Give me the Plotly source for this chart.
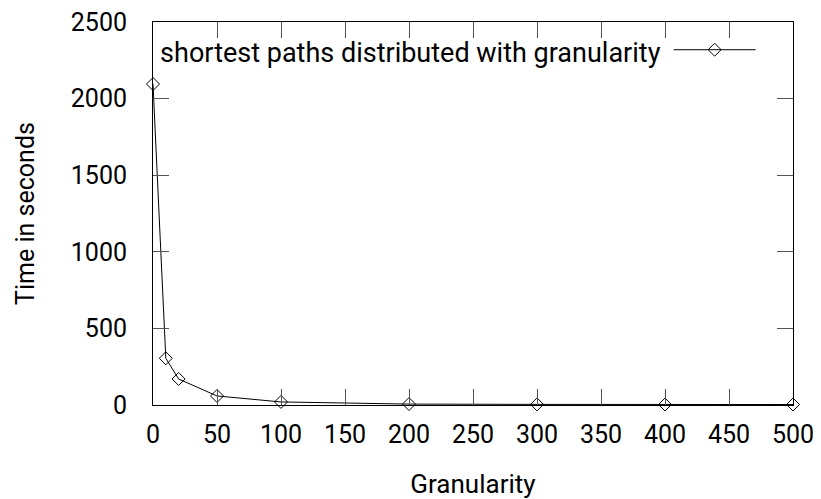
import plotly.graph_objects as go

granularity = [0, 10, 20, 50, 100, 200, 300, 400, 500]
time_seconds = [2095, 305, 170, 59, 20, 6, 4, 3, 3]
series_name = "shortest paths distributed with granularity"
x_ticks = [0, 50, 100, 150, 200, 250, 300, 350, 400, 450, 500]
y_ticks = [0, 500, 1000, 1500, 2000, 2500]

FONT = "Roboto"
FS = 25

fig = go.Figure()
fig.add_trace(go.Scatter(
    x=granularity, y=time_seconds, mode="lines+markers",
    name="",
    line=dict(color="black", width=1),
    marker=dict(symbol="diamond-open", size=10, color="black", line=dict(width=1)),
    showlegend=True,
    cliponaxis=False,
))

axis_common = dict(
    showgrid=False, zeroline=False, showline=True, linecolor="black", linewidth=1,
    mirror="ticks", ticks="inside", ticklen=16, tickcolor="#555", tickwidth=1,
    tickfont=dict(family=FONT, size=FS, color="black"), automargin=False,
    ticklabeloverflow="allow",
)

# the page body adds an 8px offset, so the figure is 8px smaller and margins compensated
fig.update_layout(
    width=813, height=491,
    margin=dict(l=145, r=28, t=14, b=94),
    plot_bgcolor="white", paper_bgcolor="white",
    font=dict(family=FONT, size=FS, color="black"),
    xaxis=dict(range=[0, 500], tickvals=x_ticks, ticklabelstandoff=7,
               title=dict(text="Granularity", font=dict(family=FONT, size=26), standoff=27),
               **axis_common),
    yaxis=dict(range=[0, 2500], tickvals=y_ticks, ticklabelstandoff=20,
               title=dict(text="Time in seconds", font=dict(family=FONT, size=FS), standoff=29),
               **axis_common),
    legend=dict(x=0.008, y=0.987, xanchor="left", yanchor="top",
                bgcolor="rgba(0,0,0,0)", borderwidth=0,
                title=dict(text=series_name, side="left", font=dict(family=FONT, size=27)),
                itemwidth=82, font=dict(family=FONT, size=FS)),
)

fig.write_html("out.html")
